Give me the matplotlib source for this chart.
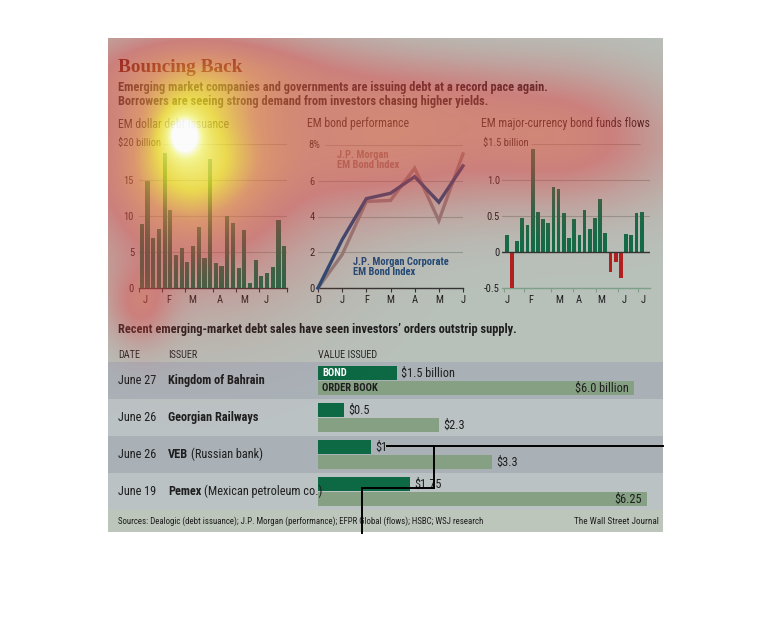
import numpy as np
import matplotlib
matplotlib.use("Agg")
import matplotlib.pyplot as plt
from matplotlib import font_manager as fm
from matplotlib.patches import Rectangle
from matplotlib.lines import Line2D
from matplotlib.colors import LinearSegmentedColormap

# ---------------- data ----------------
issuance_bn = [8.9, 14.9, 7.0, 8.2, 18.75, 10.9, 4.6, 5.5, 3.6, 5.9, 8.5, 4.1, 17.9,
               3.5, 3.0, 10.0, 9.0, 2.8, 8.1, 0.75, 3.9, 1.6, 2.1, 2.9, 9.5, 5.8]
issuance_months = ['J', 'F', 'M', 'A', 'M', 'J']
issuance_yticks = [0, 5, 10, 15]

perf_months = ['D', 'J', 'F', 'M', 'A', 'M', 'J']
em_bond_index = [0, 1.87, 4.84, 4.9, 6.7, 3.77, 7.5]
em_corp_index = [0, 2.7, 5.0, 5.3, 6.23, 4.8, 6.83]
perf_yticks = [0, 2, 4, 6]

flows_bn = [0.23, -0.556, 0.15, 0.47, 0.38, 1.435, 0.56, 0.46, 0.40, 0.90, 0.875, 0.54, 0.20,
            0.46, 0.24, 0.58, 0.32, 0.47, 0.73, 0.26, -0.28, -0.14, -0.36, 0.25, 0.23, 0.54, 0.56]
flows_months = ['J', 'F', 'M', 'A', 'M', 'J', 'J']
flows_yticks = [-0.5, 0, 0.5, 1.0]
flows_ylabels = ['-0.5', '0', '0.5', '1.0']

dates = ['June 27', 'June 26', 'June 26', 'June 19']
issuers = ['Kingdom of Bahrain', 'Georgian Railways', 'VEB', 'Pemex']
issuer_notes = ['', '', '(Russian bank)', '(Mexican petroleum co.)']
bond_bn = [1.5, 0.5, 1.0, 1.75]
order_bn = [6.0, 2.3, 3.3, 6.25]
bond_labels = ['$1.5 billion', '$0.5', '$1', '$1.75']
order_labels = ['$6.0 billion', '$2.3', '$3.3', '$6.25']

# ---------------- style ----------------
names = {f.name for f in fm.fontManager.ttflist}
SANS = next((n for n in ['Liberation Sans Narrow', 'Roboto Condensed', 'Open Sans Condensed',
                         'Liberation Sans'] if n in names), 'DejaVu Sans')
SERIF = next((n for n in ['Liberation Serif', 'DejaVu Serif'] if n in names), 'DejaVu Serif')
plt.rcParams['font.family'] = [SANS, 'DejaVu Sans']

TXT = '#1e1e1e'
GREEN = '#0f6c47'
RED = '#b21f1f'
GRID = '#8f9c93'
NAVY = '#1c4a78'
GRAYLINE = '#8a807d'
BOND_C = '#0c6944'
ORDER_C = '#86a083'

W, H = 770, 628
fig = plt.figure(figsize=(W / 100, H / 100), dpi=100)
fig.patch.set_facecolor('white')


def px_ax(x0, y0, x1, y1, **kw):
    a = fig.add_axes([x0 / W, 1 - y1 / H, (x1 - x0) / W, (y1 - y0) / H], **kw)
    a.patch.set_alpha(0)
    return a


def ftxt(x, y, s, **kw):
    kw.setdefault('color', TXT)
    kw.setdefault('va', 'center')
    return fig.text(x / W, 1 - y / H, s, **kw)


def frect(x0, y0, x1, y1, color, z=-10):
    fig.add_artist(Rectangle((x0 / W, 1 - y1 / H), (x1 - x0) / W, (y1 - y0) / H,
                             transform=fig.transFigure, facecolor=color, edgecolor='none', zorder=z))


renderer = fig.canvas.get_renderer()


def fit(t, width):
    w = t.get_window_extent(renderer).width
    t.set_fontsize(t.get_fontsize() * width / w)
    return t.get_fontsize()


# ---------------- panel backgrounds ----------------
frect(108, 38, 663, 532, '#b8c0ba', z=-20)
band_cols = ['#a9b1b7', '#bbc2c3', '#a9b1b7', '#bbc2c3']
for i in range(4):
    frect(108, 362 + 37 * i, 663, 362 + 37 * (i + 1), band_cols[i], z=-15)
frect(108, 510, 663, 532, '#bdc6bb', z=-15)

# ---------------- headline ----------------
t = ftxt(118, 67, 'Bouncing Back', family=SERIF, weight='bold', color='#5a170c', fontsize=14)
fit(t, 125)
t1 = ftxt(118, 88, 'Emerging market companies and governments are issuing debt at a record pace again.',
          weight='bold', fontsize=9)
s = fit(t1, 431)
ftxt(118, 101, 'Borrowers are seeing strong demand from investors chasing higher yields.',
     weight='bold', fontsize=s)

tt = ftxt(481, 124, 'EM major-currency bond funds flows', fontsize=9)
cs = fit(tt, 171)
ftxt(118, 124, 'EM dollar debt issuance', fontsize=cs)
ftxt(307, 124, 'EM bond performance', fontsize=cs)

TICK = 7.6

# ---------------- chart 1 ----------------
ax1 = px_ax(139, 144, 287, 288)
x1 = np.arange(len(issuance_bn))
ax1.bar(x1, issuance_bn, width=0.72, color=GREEN, zorder=3)
ax1.set_xlim(-0.5, 25.5)
ax1.set_ylim(0, 20)
for v in [5, 10, 15]:
    ax1.axhline(v, color=GRID, lw=0.8, zorder=1)
ax1.hlines(20, 3.7, 25.5, color=GRID, lw=0.8, zorder=1)
for sp in ['top', 'right', 'left']:
    ax1.spines[sp].set_visible(False)
ax1.spines['bottom'].set_color('#333333')
ax1.spines['bottom'].set_linewidth(1.0)
ax1.set_yticks(issuance_yticks)
ax1.set_yticklabels([str(v) for v in issuance_yticks])
ax1.tick_params(axis='y', length=0, pad=3.6, labelsize=TICK, labelcolor=TXT)
ax1.set_xticks([-0.5, 3.5, 7.5, 12.5, 16.5, 20.5, 25.5])
ax1.set_xticklabels([])
ax1.set_xticks([0.6, 4.7, 8.9, 13.7, 17.9, 21.8], minor=True)
ax1.set_xticklabels(issuance_months, minor=True)
ax1.tick_params(axis='x', which='major', length=3, color='#333333', direction='out')
ax1.tick_params(axis='x', which='minor', length=0, pad=5, labelsize=TICK, labelcolor=TXT)
ftxt(118, 143, '$20 billion', fontsize=TICK)

# ---------------- chart 2 ----------------
ax2 = px_ax(318, 145, 463, 288)
xp = np.arange(len(perf_months))
ax2.plot(xp, em_bond_index, color=GRAYLINE, lw=2.4, zorder=3, clip_on=False,
         solid_joinstyle='miter')
ax2.plot(xp, em_corp_index, color=NAVY, lw=2.4, zorder=4, clip_on=False,
         solid_joinstyle='miter')
ax2.set_xlim(0, 6)
ax2.set_ylim(0, 8)
for v in [2, 4, 6]:
    ax2.axhline(v, color=GRID, lw=0.8, zorder=1)
ax2.hlines(8, 0.3, 6, color=GRID, lw=0.8, zorder=1)
for sp in ['top', 'right', 'left']:
    ax2.spines[sp].set_visible(False)
ax2.spines['bottom'].set_color('#333333')
ax2.spines['bottom'].set_linewidth(1.0)
ax2.set_yticks(perf_yticks)
ax2.set_yticklabels([str(v) for v in perf_yticks])
ax2.tick_params(axis='y', length=0, pad=2.5, labelsize=TICK, labelcolor=TXT)
ax2.set_xticks(xp)
ax2.set_xticklabels(perf_months)
ax2.tick_params(axis='x', length=3, color='#333333', pad=2, labelsize=TICK, labelcolor=TXT)
ftxt(308, 145, '8%', fontsize=TICK)
ftxt(337, 160, 'J.P. Morgan\nEM Bond Index', fontsize=TICK, weight='bold', color='#86706c',
     linespacing=1.05)
ftxt(353, 267, 'J.P. Morgan Corporate\nEM Bond Index', fontsize=TICK, weight='bold', color=NAVY,
     linespacing=1.05)

# ---------------- chart 3 ----------------
ax3 = px_ax(502, 144, 650, 288)
x3 = np.arange(len(flows_bn))
ax3.bar(x3, flows_bn, width=0.72, color=[GREEN if v >= 0 else RED for v in flows_bn], zorder=3)
ax3.set_xlim(-0.9, 27.6)
ax3.set_ylim(-0.5, 1.5)
for v in [0.5, 1.0]:
    ax3.axhline(v, color=GRID, lw=0.8, zorder=1)
ax3.hlines(1.5, 4.7, 25.7, color=GRID, lw=0.8, zorder=1)
ax3.axhline(0, color='#333333', lw=1.0, zorder=4)
for sp in ['top', 'right', 'left']:
    ax3.spines[sp].set_visible(False)
ax3.spines['bottom'].set_color('#7f9f88')
ax3.spines['bottom'].set_linewidth(1.0)
ax3.set_yticks(flows_yticks)
ax3.set_yticklabels(flows_ylabels)
ax3.tick_params(axis='y', length=0, pad=1.5, labelsize=TICK, labelcolor=TXT)
ax3.set_xticks([-0.6, 3.4, 8.5, 12.8, 17.2, 21.5, 25.3])
ax3.set_xticklabels([])
ax3.set_xticks([0.1, 4.7, 10.1, 13.9, 18.2, 22.6, 26.3], minor=True)
ax3.set_xticklabels(flows_months, minor=True)
ax3.tick_params(axis='x', which='major', length=3, color='#7f9f88', direction='out')
ax3.tick_params(axis='x', which='minor', length=0, pad=5, labelsize=TICK, labelcolor=TXT)
ftxt(483, 143, '$1.5 billion', fontsize=TICK)

# ---------------- table ----------------
ti = ftxt(118, 330, 'Recent emerging-market debt sales have seen investors\u2019 orders outstrip supply.',
          weight='bold', fontsize=9)
fit(ti, 399)
ftxt(118, 355, 'DATE', fontsize=7.4, color='#2a2a2a')
ftxt(168, 355, 'ISSUER', fontsize=7.4, color='#2a2a2a')
hv = ftxt(318, 355, 'VALUE ISSUED', fontsize=7.4, color='#2a2a2a')

axT = px_ax(318, 362, 663, 510)
axT.set_xlim(0, (663 - 318) / 52.7)
axT.set_ylim(3.5, -0.5)
axT.axis('off')
rows = np.arange(len(issuers))
axT.barh(rows - 0.2, bond_bn, height=0.36, color=BOND_C, zorder=3)
axT.barh(rows + 0.2, order_bn, height=0.36, color=ORDER_C, zorder=2)

tmp = ftxt(168, 380, issuers[0], fontsize=8.2, weight='bold')
ROWF = fit(tmp, 96)
tmp.remove()

for i in rows:
    axT.annotate(bond_labels[i], (bond_bn[i], i - 0.2), xytext=(3, 0), textcoords='offset points',
                 va='center', ha='left', fontsize=ROWF, color=TXT)
    if order_bn[i] > 5:
        axT.annotate(order_labels[i], (order_bn[i], i + 0.2), xytext=(-4, 0), textcoords='offset points',
                     va='center', ha='right', fontsize=ROWF, color=TXT)
    else:
        axT.annotate(order_labels[i], (order_bn[i], i + 0.2), xytext=(3, 0), textcoords='offset points',
                     va='center', ha='left', fontsize=ROWF, color=TXT)
axT.annotate('BOND', (0, -0.2), xytext=(3, 0), textcoords='offset points', va='center',
             ha='left', fontsize=7.6, weight='bold', color='white', zorder=5)
axT.annotate('ORDER BOOK', (0, 0.2), xytext=(3, 0), textcoords='offset points', va='center',
             ha='left', fontsize=7.6, weight='bold', color=TXT, zorder=5)

for i in rows:
    yc = 362 + 37 * i + 18.5
    ftxt(118, yc, dates[i], fontsize=ROWF)
    tb = ftxt(168, yc, issuers[i], fontsize=ROWF, weight='bold')
    if issuer_notes[i]:
        wb = tb.get_window_extent(renderer).width
        ftxt(168 + wb + 3, yc, issuer_notes[i], fontsize=ROWF)

src = ftxt(118.5, 521, 'Sources: Dealogic (debt issuance); J.P. Morgan (performance); EFPR Global (flows); HSBC; WSJ research',
           fontsize=7)
fit(src, 372)
wsj = ftxt(658.5, 521, 'The Wall Street Journal', fontsize=7, ha='right')
fit(wsj, 85)

# ---------------- attention heat overlay ----------------
xs = np.arange(108, 663) + 0.5
ys = np.arange(38, 532) + 0.5
XX, YY = np.meshgrid(xs, ys)
blobs = [  # cx, cy, sx, sy, amp
    (183, 133, 14, 16, 0.30),
    (188, 152, 52, 55, 0.55),
    (200, 190, 90, 80, 0.30),
    (210, 72, 100, 30, 0.32),
    (385, 150, 85, 45, 0.33),
    (570, 140, 75, 45, 0.33),
    (140, 305, 22, 28, 0.25),
    (430, 95, 90, 30, 0.15),
]
I = np.zeros_like(XX)
for cx, cy, sx, sy, a in blobs:
    I += a * np.exp(-((XX - cx) ** 2 / (2 * sx ** 2) + (YY - cy) ** 2 / (2 * sy ** 2)))
I = np.clip(I, 0, 1)
heat = LinearSegmentedColormap.from_list('heat', [
    (0.0, (0.86, 0.22, 0.22, 0.0)),
    (0.3, (0.88, 0.25, 0.25, 0.50)),
    (0.55, (0.95, 0.50, 0.25, 0.62)),
    (0.75, (1.00, 0.90, 0.15, 0.72)),
    (0.92, (1.00, 1.00, 0.55, 0.85)),
    (1.0, (1.00, 1.00, 1.00, 0.95)),
])
axO = px_ax(108, 38, 663, 532)
axO.set_zorder(10)
axO.imshow(I, cmap=heat, vmin=0, vmax=1, extent=(108, 663, 532, 38), aspect='auto',
           interpolation='bilinear')
axO.axis('off')

# ---------------- black marker lines ----------------
for xs_, ys_ in [((387, 663), (446, 446)), ((434, 434), (446, 488)),
                 ((361.5, 434), (488, 488)), ((361.5, 361.5), (488, 533))]:
    fig.add_artist(Line2D([x / W for x in xs_], [1 - y / H for y in ys_], transform=fig.transFigure,
                          color='black', lw=1.4, zorder=20))

fig.savefig('out.png', dpi=100, facecolor='white')
